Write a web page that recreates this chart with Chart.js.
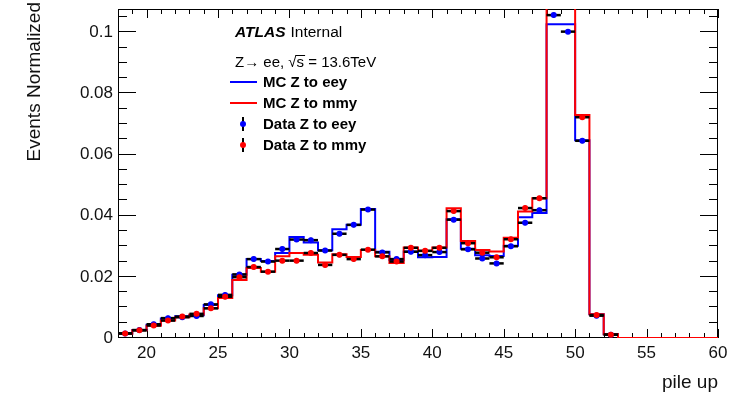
<!DOCTYPE html>
<html>
<head>
<meta charset="utf-8">
<script src="https://cdn.jsdelivr.net/npm/chart.js@4.4.0/dist/chart.umd.min.js"></script>
<style>
  html, body { margin: 0; padding: 0; background: #fff; }
</style>
</head>
<body>
<canvas id="pileup" width="755" height="398"></canvas>
<script>
// pile-up bins, width 1, low edges
const binLow = [18, 19, 20, 21, 22, 23, 24, 25, 26, 27, 28, 29, 30, 31, 32, 33, 34, 35, 36, 37, 38,
                39, 40, 41, 42, 43, 44, 45, 46, 47, 48, 49, 50, 51, 52, 53, 54, 55, 56, 57, 58, 59];

const mcEey = [0.0015, 0.0026, 0.0043, 0.0064, 0.0071, 0.0074, 0.0108, 0.0140, 0.0207, 0.0258, 0.0252,
               0.0278, 0.0330, 0.0312, 0.0287, 0.0356, 0.0370, 0.0422, 0.0282, 0.0255, 0.0283, 0.0264,
               0.0265, 0.0388, 0.0292, 0.0271, 0.0268, 0.0302, 0.0395, 0.0409, 0.1026, 0.1026, 0.0647,
               0.0078, 0.0012, 0, 0, 0, 0, 0, 0, 0];

const mcMmy = [0.0014, 0.0025, 0.0040, 0.0057, 0.0068, 0.0077, 0.0097, 0.0131, 0.0190, 0.0229, 0.0217,
               0.0267, 0.0278, 0.0272, 0.0247, 0.0274, 0.0265, 0.0288, 0.0267, 0.0245, 0.0296, 0.0285,
               0.0296, 0.0424, 0.0317, 0.0288, 0.0283, 0.0328, 0.0414, 0.0457, 0.1250, 0.1180, 0.0729,
               0.0078, 0.0012, 0, 0, 0, 0, 0, 0, 0];

// data only filled up to bin 52
const dataEey = [0.0015, 0.0026, 0.0045, 0.0065, 0.0068, 0.0072, 0.0110, 0.0141, 0.0208, 0.0258, 0.0250,
                 0.0291, 0.0322, 0.0320, 0.0286, 0.0341, 0.0370, 0.0420, 0.0280, 0.0258, 0.0282, 0.0271,
                 0.0281, 0.0387, 0.0290, 0.0260, 0.0244, 0.0300, 0.0377, 0.0418, 0.1056, 0.1002, 0.0645,
                 0.0073, 0.0011];

const dataMmy = [0.0015, 0.0025, 0.0041, 0.0057, 0.0070, 0.0079, 0.0097, 0.0135, 0.0199, 0.0232, 0.0217,
                 0.0253, 0.0253, 0.0278, 0.0239, 0.0272, 0.0258, 0.0289, 0.0267, 0.0250, 0.0295, 0.0285,
                 0.0295, 0.0415, 0.0310, 0.0279, 0.0264, 0.0323, 0.0425, 0.0457, 0.1240, 0.1170, 0.0722,
                 0.0075, 0.0011];

const xTicks = [20, 25, 30, 35, 40, 45, 50, 55, 60];
const yTicks = [0, 0.02, 0.04, 0.06, 0.08, 0.1];
const dataErr = 0.0008;

const FONT = '"Liberation Sans", Arial, sans-serif';
const BLUE = '#0000ff';
const RED = '#ff0000';

// step outline: one point per low edge, closed at the last high edge
function histPoints(vals) {
  const pts = binLow.map((lo, i) => ({ x: lo, y: vals[i] }));
  pts.push({ x: binLow[binLow.length - 1] + 1, y: vals[vals.length - 1] });
  return pts;
}

function dataPoints(vals) {
  return vals.map((v, i) => ({ x: binLow[i] + 0.5, y: v }));
}

// black x/y error bars under each data marker
const errorBars = {
  id: 'errorBars',
  beforeDatasetDraw(chart, args) {
    const ds = chart.data.datasets[args.index];
    if (!ds.isData) return;
    const { ctx, chartArea: a, scales: { x, y } } = chart;
    ctx.save();
    ctx.beginPath();
    ctx.rect(a.left, a.top, a.width, a.height);
    ctx.clip();
    ctx.strokeStyle = '#000';
    ds.data.forEach(p => {
      const yp = y.getPixelForValue(p.y);
      const xp = x.getPixelForValue(p.x);
      ctx.lineWidth = 2.5;
      ctx.beginPath();
      ctx.moveTo(x.getPixelForValue(p.x - 0.5), yp);
      ctx.lineTo(x.getPixelForValue(p.x + 0.5), yp);
      ctx.stroke();
      ctx.lineWidth = 2;
      ctx.beginPath();
      ctx.moveTo(xp, y.getPixelForValue(p.y - dataErr));
      ctx.lineTo(xp, y.getPixelForValue(p.y + dataErr));
      ctx.stroke();
    });
    ctx.restore();
  }
};

// frame with inward ticks on all four sides
const frame = {
  id: 'frame',
  beforeDatasetsDraw(chart) {
    const { ctx, chartArea: a, scales: { x, y } } = chart;
    ctx.save();
    ctx.strokeStyle = '#000';
    ctx.lineWidth = 1;
    ctx.strokeRect(a.left + 0.5, a.top + 0.5, a.right - a.left - 1, a.bottom - a.top - 1);
    ctx.beginPath();
    for (let v = x.min; v <= x.max; v++) {
      const px = Math.round(x.getPixelForValue(v)) + 0.5;
      const len = v % 5 === 0 ? 9 : 5;
      ctx.moveTo(px, a.bottom);
      ctx.lineTo(px, a.bottom - len);
      ctx.moveTo(px, a.top);
      ctx.lineTo(px, a.top + len);
    }
    for (let k = 0; k * 0.005 <= y.max; k++) {
      const py = Math.round(y.getPixelForValue(k * 0.005)) - 0.5;
      const len = k % 4 === 0 ? 18 : 9;
      ctx.moveTo(a.left, py);
      ctx.lineTo(a.left + len, py);
      ctx.moveTo(a.right, py);
      ctx.lineTo(a.right - len, py);
    }
    ctx.stroke();
    ctx.restore();
  }
};

// axis titles, ATLAS label and legend box
const labels = {
  id: 'labels',
  afterDraw(chart) {
    const { ctx, chartArea: a } = chart;
    ctx.save();
    ctx.fillStyle = '#111';

    ctx.font = '19px ' + FONT;
    ctx.save();
    ctx.translate(35, 2);
    ctx.rotate(-Math.PI / 2);
    ctx.textAlign = 'right';
    ctx.textBaseline = 'middle';
    ctx.fillText('Events Normalized', 0, 0);
    ctx.restore();

    ctx.textAlign = 'right';
    ctx.textBaseline = 'alphabetic';
    ctx.fillText('pile up', a.right, 388);

    ctx.textAlign = 'left';
    ctx.fillStyle = '#000';
    ctx.font = 'italic bold 15.5px ' + FONT;
    ctx.fillText('ATLAS', 235, 37);
    const wAtlas = ctx.measureText('ATLAS').width;
    ctx.font = '15.5px ' + FONT;
    ctx.fillText('Internal', 235 + wAtlas + 5, 37);

    ctx.font = '15px ' + FONT;
    const pre = 'Z\u2192 ee, \u221A';
    ctx.fillText(pre + 's = 13.6TeV', 235, 67);
    const w1 = ctx.measureText(pre).width;
    const ws = ctx.measureText('s').width;
    ctx.strokeStyle = '#000';
    ctx.lineWidth = 1;
    ctx.beginPath();
    ctx.moveTo(235 + w1 - 1, 55.5);
    ctx.lineTo(235 + w1 + ws + 1, 55.5);
    ctx.stroke();

    ctx.font = 'bold 15px ' + FONT;
    ctx.textBaseline = 'middle';
    const rows = [82, 103, 124, 145];
    chart.data.datasets.forEach((ds, r) => {
      const yy = rows[r];
      if (ds.isData) {
        ctx.strokeStyle = '#000';
        ctx.lineWidth = 2;
        ctx.beginPath();
        ctx.moveTo(243, yy - 7);
        ctx.lineTo(243, yy + 7);
        ctx.stroke();
        ctx.fillStyle = ds.pointBackgroundColor;
        ctx.beginPath();
        ctx.arc(243, yy, 3, 0, Math.PI * 2);
        ctx.fill();
      } else {
        ctx.strokeStyle = ds.borderColor;
        ctx.lineWidth = 2;
        ctx.beginPath();
        ctx.moveTo(230, yy);
        ctx.lineTo(257, yy);
        ctx.stroke();
      }
      ctx.fillStyle = '#000';
      ctx.fillText(ds.label, 263, yy + 1);
    });
    ctx.restore();
  }
};

new Chart(document.getElementById('pileup'), {
  type: 'scatter',
  data: {
    datasets: [
      {
        label: 'MC Z to eey', data: histPoints(mcEey), showLine: true, stepped: 'before',
        borderColor: BLUE, borderWidth: 2, pointRadius: 0, fill: false, order: 3
      },
      {
        label: 'MC Z to mmy', data: histPoints(mcMmy), showLine: true, stepped: 'before',
        borderColor: RED, borderWidth: 2, pointRadius: 0, fill: false, order: 2
      },
      {
        label: 'Data Z to eey', data: dataPoints(dataEey), isData: true,
        pointBackgroundColor: BLUE, pointBorderWidth: 0, pointRadius: 3, order: 1
      },
      {
        label: 'Data Z to mmy', data: dataPoints(dataMmy), isData: true,
        pointBackgroundColor: RED, pointBorderWidth: 0, pointRadius: 3, order: 0
      }
    ]
  },
  options: {
    responsive: false,
    animation: false,
    devicePixelRatio: 1,
    layout: { padding: { top: 9, right: 37, left: 0, bottom: 0 } },
    plugins: { legend: { display: false }, tooltip: { enabled: false } },
    scales: {
      x: {
        type: 'linear', min: 18, max: 60,
        grid: { display: false, drawTicks: false },
        border: { display: false },
        afterBuildTicks: s => { s.ticks = xTicks.map(v => ({ value: v })); },
        afterFit: s => { s.height = 60; s.paddingLeft = 0; s.paddingRight = 0; },
        ticks: { padding: 5, color: '#111', font: { family: FONT, size: 17 }, maxRotation: 0 }
      },
      y: {
        type: 'linear', min: 0, max: 0.1076,
        grid: { display: false, drawTicks: false },
        border: { display: false },
        afterBuildTicks: s => { s.ticks = yTicks.map(v => ({ value: v })); },
        afterFit: s => { s.width = 118; s.paddingTop = 0; s.paddingBottom = 0; },
        ticks: {
          padding: 5, color: '#111', font: { family: FONT, size: 17 },
          callback: v => (v === 0 ? '0' : String(+v.toFixed(2)))
        }
      }
    }
  },
  plugins: [frame, errorBars, labels]
});
</script>
</body>
</html>
